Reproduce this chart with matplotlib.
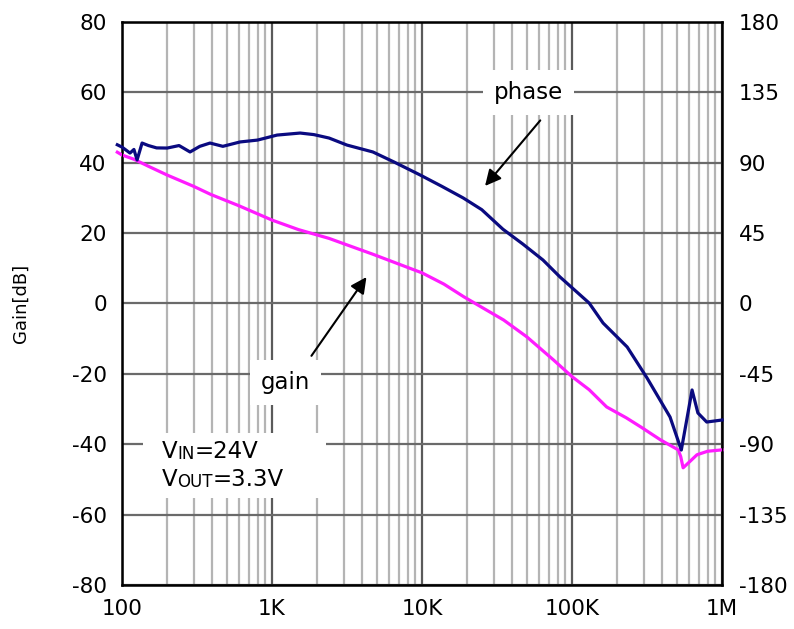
import matplotlib.pyplot as plt
from matplotlib.ticker import FixedLocator, NullFormatter

plt.rcParams['font.family'] = ['DejaVu Sans']
plt.rcParams['axes.unicode_minus'] = False

# gain curve (Hz, dB)
gain_freq = [93, 100, 120, 150, 200, 300, 390, 600, 1000, 1500, 2400, 3000,
             4700, 7000, 10000, 14000, 19000, 26000, 35000, 50000, 75000,
             100000, 130000, 170000, 230000, 290000, 390000, 510000, 530000,
             550000, 600000, 680000, 800000, 1000000]
gain_db = [43.0, 42.2, 41.0, 39.0, 36.5, 33.3, 31.0, 27.8, 23.7, 21.0, 18.5,
           17.0, 14.0, 11.2, 8.7, 5.5, 1.9, -1.5, -4.7, -9.5, -16.0, -20.8,
           -24.5, -29.4, -32.5, -35.2, -38.8, -41.6, -43.5, -46.7, -45.2,
           -43.0, -42.0, -41.6]

# phase curve (Hz, deg)
phase_freq = [93, 100, 113, 120, 126, 136, 150, 170, 200, 240, 284, 330, 386,
              470, 612, 800, 1080, 1540, 1900, 2400, 3160, 4700, 6500, 9700,
              13500, 18800, 25000, 34600, 47000, 64000, 83000, 130000, 161000,
              233000, 316000, 450000, 535000, 580000, 631000, 690000, 790000,
              1000000]
phase_deg = [101.5, 100.0, 96.2, 98.5, 91.8, 102.6, 101.0, 99.5, 99.4, 101.0,
             96.9, 100.5, 102.6, 100.5, 103.3, 104.5, 107.7, 109.0, 108.0,
             105.8, 101.3, 96.9, 90.5, 82.2, 75.0, 67.5, 60.0, 47.5, 38.0,
             27.8, 17.0, 0.3, -12.5, -27.8, -47.6, -72.6, -93.7, -75.0, -55.3,
             -70.0, -75.8, -74.5]

x_ticks = [100, 1000, 10000, 100000, 1000000]
x_labels = ["100", "1K", "10K", "100K", "1M"]
gain_ticks = list(range(-80, 81, 20))
phase_ticks = list(range(-180, 181, 45))
minor_x = [m * 10 ** d for d in range(2, 6) for m in range(2, 10)]

fig = plt.figure(figsize=(7.94, 6.29), dpi=100)
ax = fig.add_axes([0.1537, 0.070, 0.7557, 0.895])
ax.set_xscale('log')
ax.set_xlim(100, 1e6)
ax.set_ylim(-80, 80)
ax.xaxis.set_major_locator(FixedLocator(x_ticks))
ax.xaxis.set_minor_locator(FixedLocator(minor_x))
ax.xaxis.set_minor_formatter(NullFormatter())
ax.set_xticklabels(x_labels)
ax.set_yticks(gain_ticks)

ax.grid(True, which='minor', axis='x', color='#b4b4b4', lw=1.6)
ax.grid(True, which='major', axis='x', color='#5a5a5a', lw=1.6)
ax.grid(True, which='major', axis='y', color='#6a6a6a', lw=1.6)
ax.set_axisbelow(True)
ax.tick_params(which='both', length=0, labelsize=15.5)
ax.tick_params(axis='x', pad=10)
ax.tick_params(axis='y', pad=11)
ax.set_ylabel("Gain[dB]", fontsize=13, labelpad=30)
for s in ax.spines.values():
    s.set_linewidth(1.8)

ax.plot(gain_freq, gain_db, color='#ff1cff', lw=2.3, clip_on=False, zorder=3)

ax2 = ax.twinx()
ax2.set_ylim(-180, 180)
ax2.set_yticks(phase_ticks)
ax2.tick_params(length=0, labelsize=15.5, pad=12)
ax2.plot(phase_freq, phase_deg, color='#0a0a80', lw=2.3, clip_on=False, zorder=3)

box = dict(facecolor='white', edgecolor='none', pad=8)
arrow = dict(arrowstyle='-|>', color='black', lw=1.5, mutation_scale=24)
ax2.annotate("phase", xy=(0.602, 0.705), xycoords='axes fraction',
             xytext=(0.677, 0.874), textcoords='axes fraction',
             ha='center', va='center', fontsize=16.5, bbox=box)
ax2.annotate("", xy=(0.602, 0.705), xycoords='axes fraction',
             xytext=(0.700, 0.829), textcoords='axes fraction',
             arrowprops=arrow)
ax2.annotate("gain", xy=(0.41, 0.551), xycoords='axes fraction',
             xytext=(0.272, 0.359), textcoords='axes fraction',
             ha='center', va='center', fontsize=16.5, bbox=box)
ax2.annotate("", xy=(0.41, 0.551), xycoords='axes fraction',
             xytext=(0.313, 0.403), textcoords='axes fraction',
             arrowprops=arrow)

# conditions box with small caps subscripts
ax2.add_patch(plt.Rectangle((0.035, 0.155), 0.305, 0.115, transform=ax2.transAxes,
                            facecolor='white', edgecolor='none', zorder=1))
t1 = ax2.text(0.066, 0.225, "V", transform=ax2.transAxes, fontsize=16.5, zorder=4)
t2 = ax2.annotate("IN", xy=(1, 0), xycoords=t1, fontsize=12, va='bottom', zorder=4)
ax2.annotate("=24V", xy=(1, 0), xycoords=t2, fontsize=16.5, va='bottom', zorder=4)
t3 = ax2.text(0.066, 0.175, "V", transform=ax2.transAxes, fontsize=16.5, zorder=4)
t4 = ax2.annotate("OUT", xy=(1, 0), xycoords=t3, fontsize=12, va='bottom', zorder=4)
ax2.annotate("=3.3V", xy=(1, 0), xycoords=t4, fontsize=16.5, va='bottom', zorder=4)

fig.savefig("out.png", dpi=100)
